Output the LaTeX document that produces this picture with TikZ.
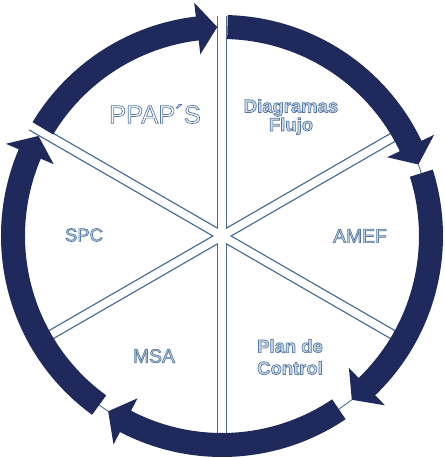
\documentclass[tikz,border=0pt]{standalone}
\usepackage{fontspec}
\setmainfont{Liberation Sans}

\definecolor{ringnavy}{RGB}{31,41,92}
\definecolor{spokeblue}{RGB}{72,108,148}
\definecolor{textfill}{RGB}{205,218,233}
% letters drawn filled and outlined
\newcommand{\hollow}[1]{\special{pdf:literal direct 2 Tr 0.4 w 0.33 0.47 0.64 RG}#1\special{pdf:literal direct 0 Tr}}

\begin{document}
\begin{tikzpicture}[
	ring/.style={fill=ringnavy},
	gapline/.style={spokeblue, line width=0.5pt},
	tag/.style={text=textfill, align=center, font=\bfseries\fontsize{10.5}{10.5}\selectfont}]
	\useasboundingbox (0,0) rectangle (8.9,9.16);
	\begin{scope}[shift={(4.44,4.44)}]
		% spokes: blue edges first, white core on top
		\foreach \a in {90,30,...,-210}
			\draw[spokeblue, line width=0.206cm] (0,0) -- (\a:4.40);
		\foreach \a in {90,30,...,-210}
			\draw[white, line width=0.154cm] (0,0) -- (\a:4.45);
		% arrow segments of the ring
		\foreach \s/\t [count=\i] in {88.5/20, 17.5/-51.6, -56/-123, -126/-208.6, 149/91.3} {
			\fill[ring] (\s:4.42) arc[start angle=\s, end angle=\t+5.5, radius=4.42]
				-- (\t+5.5:4.70) -- (\t:4.18) -- (\t+5.5:3.66) -- (\t+5.5:3.94)
				arc[start angle=\t+5.5, end angle=\s, radius=3.94] -- cycle;
			\coordinate (tip\i) at (\t:4.18);
			\coordinate (start\i) at (\s:4.18);
		}
		\draw[gapline] (tip1) -- (start2);
		\draw[gapline] (tip2) -- (start3);
		\draw[gapline] (tip3) -- (start4);
	\end{scope}
	% labels of the six slices
	\node[tag, text=white, font=\fontsize{14.5}{16}\selectfont] (ppaps) at (3.10,6.88) {\hollow{PPAP´S}};
	\node[tag] (flujo) at (5.82,6.82) {\hollow{Diagramas\\Flujo}};
	\node[tag, font=\fontsize{11}{12}\selectfont] (amef) at (7.20,4.44) {\hollow{AMEF}};
	\node[tag, font=\bfseries\fontsize{10.5}{12.5}\selectfont] (plan) at (5.80,2.02) {\hollow{Plan de\\Control}};
	\node[tag, font=\fontsize{10.5}{12}\selectfont] (spc) at (1.68,4.46) {\hollow{SPC}};
	\node[tag, font=\fontsize{11}{12}\selectfont] (msa) at (3.08,2.04) {\hollow{MSA}};
\end{tikzpicture}
\end{document}
